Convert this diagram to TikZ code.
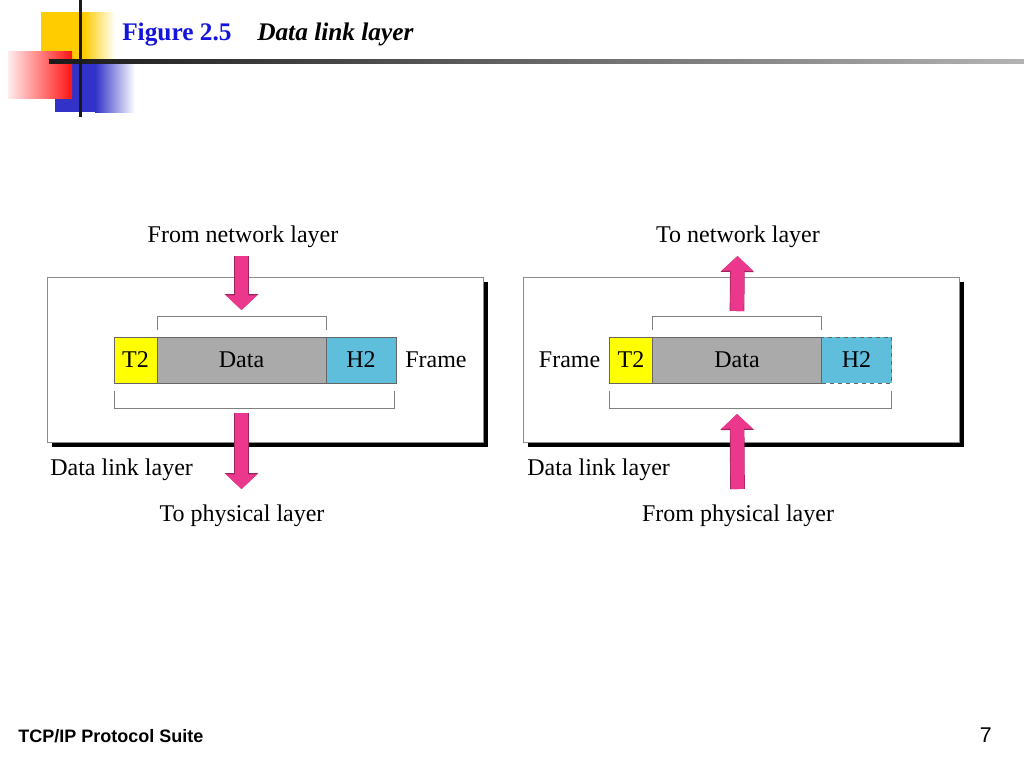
\documentclass[tikz,border=0pt]{standalone}
\usepackage{fontspec}
\setmainfont{Liberation Serif}
\newfontfamily\footfont{Liberation Sans}
\usetikzlibrary{positioning,shadows,arrows.meta,calc}
\definecolor{fieldyellow}{RGB}{255,255,0}
\definecolor{fieldgray}{RGB}{170,170,170}
\definecolor{fieldcyan}{RGB}{95,190,220}
\definecolor{arrowpink}{RGB}{236,56,140}
\definecolor{arrowedge}{RGB}{160,35,95}
\definecolor{titleblue}{RGB}{20,20,220}
\definecolor{decoyellow}{RGB}{255,204,0}
\definecolor{decored}{RGB}{255,20,20}
\definecolor{decoblue}{RGB}{50,50,200}
\tikzset{
    layer-box/.style = {draw=black!45, fill=white, thin, rectangle, minimum width=327pt, minimum height=123.75pt, drop shadow={shadow xshift=3.75pt, shadow yshift=-3.75pt, fill=black, opacity=1}},
    field/.style = {draw=black!60, thin, rectangle, minimum height=34.5pt, inner sep=0pt, outer sep=0pt, font=\fontsize{18}{20}\selectfont},
    label-text/.style = {inner sep=0pt, font=\fontsize{18}{20}\selectfont},
    bracket/.style = {draw=black!50, thin},
    fat-arrow/.style = {draw=arrowpink, line width=10pt, -{Triangle[width=23pt, length=11pt]}, preaction={draw=arrowedge, line width=11pt, -{Triangle[width=24.5pt, length=12pt]}}},
}
\begin{document}
\begin{tikzpicture}[x=0.75pt, y=-0.75pt]
\useasboundingbox (0,0) rectangle (1024,768);
\fill[decoyellow] (41,12) rectangle (84,62);
\shade[left color=decoyellow, right color=white] (84,12) rectangle (115,62);
\fill[decoblue] (55,60) rectangle (95,112);
\shade[left color=decoblue, right color=white] (95,60) rectangle (135,112);
\shade[left color=decored!8, right color=decored] (8,51) rectangle (72,98);
\shade[left color=black!90, right color=black!30] (49,59) rectangle (1024,63);
\fill[black!90] (79,0) rectangle (82,117);
\node[anchor=base west, inner sep=0pt, text=titleblue, font=\fontsize{19}{22}\selectfont\bfseries] (figNum) at (122,40) {Figure 2.5};
\node[anchor=base west, inner sep=0pt, font=\fontsize{19}{22}\selectfont\bfseries\itshape] (figTitle) at (257,40) {Data link layer};

\node[layer-box] (boxL) at (265,359.5) {};
\node[field, fill=fieldyellow, minimum width=32.25pt] (t2L) at (135.5,360) {T2};
\node[field, fill=fieldgray, minimum width=126.75pt, right=0pt of t2L] (dataL) {Data};
\node[field, fill=fieldcyan, minimum width=52.5pt, right=0pt of dataL] (h2L) {H2};
\node[label-text, right=6.75pt of h2L] (frameL) {Frame};
\draw[bracket] ($(dataL.north west)+(0,-7)$) -- ++(0,-14) -| ($(dataL.north east)+(0,-7)$);
\draw[bracket] ($(t2L.south west)+(0,8)$) -- ++(0,17) -| ($(h2L.south east)+(-2,8)$);
\coordinate (inL) at (241.5,256);
\coordinate (outL) at (241.5,489);
\draw[fat-arrow] (inL) -- ($(dataL.north)+(0,-27)$);
\draw[fat-arrow] ($(dataL.south)+(0,30)$) -- (outL);
\node[label-text] (fromNet) at (243,237) {From network layer};
\node[label-text] (toPhy) at (242,516) {To physical layer};
\node[label-text, anchor=west] (dllL) at (50,470) {Data link layer};

\node[layer-box] (boxR) at (741,359.5) {};
\node[field, fill=fieldyellow, minimum width=32.25pt] (t2R) at (631,360) {T2};
\node[field, fill=fieldgray, minimum width=126.75pt, right=0pt of t2R] (dataR) {Data};
\node[field, fill=fieldcyan, minimum width=52.5pt, dashed, right=0pt of dataR] (h2R) {H2};
\node[label-text, left=6.75pt of t2R] (frameR) {Frame};
\draw[bracket] ($(dataR.north west)+(0,-7)$) -- ++(0,-14) -| ($(dataR.north east)+(0,-7)$);
\draw[bracket] ($(t2R.south west)+(0,8)$) -- ++(0,17) -| ($(h2R.south east)+(0,8)$);
\coordinate (upR) at (737.5,256);
\coordinate (inR) at (737.5,489);
\draw[fat-arrow] ($(dataR.north)+(0,-26)$) -- (upR);
\draw[fat-arrow] (inR) -- ($(dataR.south)+(0,31)$);
\node[label-text] (toNet) at (738,237) {To network layer};
\node[label-text] (fromPhy) at (738,516) {From physical layer};
\node[label-text, anchor=west] (dllR) at (527,470) {Data link layer};

\node[anchor=base west, inner sep=0pt, font=\footfont\fontsize{13.5}{16}\selectfont\bfseries] (suite) at (18,742) {TCP/IP Protocol Suite};
\node[anchor=base east, inner sep=0pt, font=\footfont\fontsize{16}{18}\selectfont] (pageNum) at (992,742) {7};
\end{tikzpicture}
\end{document}
